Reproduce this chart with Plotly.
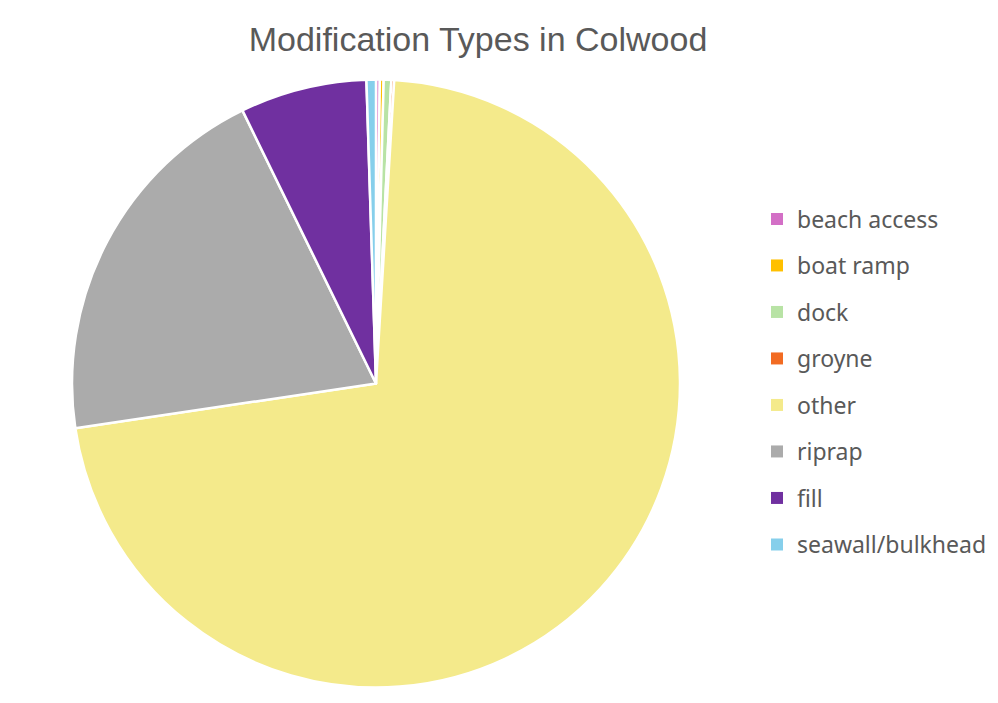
import plotly.graph_objects as go

categories = ["beach access", "boat ramp", "dock", "groyne", "other", "riprap", "fill", "seawall/bulkhead"]
values = [0.2, 0.2, 0.4, 0.15, 71.3, 20.0, 6.7, 0.5]
colors = ["#D36FC6", "#FFC000", "#B8E3A5", "#F26B22", "#F4EA8B", "#ABABAB", "#7030A0", "#86CFEB"]

fig = go.Figure()
fig.add_trace(go.Pie(
    labels=categories, values=values, sort=False, direction="clockwise", rotation=0,
    marker=dict(colors=colors, line=dict(color="white", width=2.5)),
    textinfo="none", hoverinfo="label+value", showlegend=False,
    domain=dict(x=[(368 - 304) / 998, (368 + 304) / 998], y=[(703 - 680) / 703, (703 - 71) / 703]),
))

# legend entries
for i, (c, col) in enumerate(zip(categories, colors)):
    fig.add_trace(go.Scatter(
        x=[None], y=[None], mode="markers", name=c,
        marker=dict(symbol="square", size=10, color=col),
        legendgroup=f"g{i}", showlegend=True, hoverinfo="skip",
    ))

fig.update_layout(
    width=998, height=703,
    margin=dict(l=0, r=0, t=0, b=0),
    paper_bgcolor="white", plot_bgcolor="white",
    title=dict(text="Modification Types in Colwood", x=470 / 998, xanchor="center",
               y=1 - 31 / 703, yanchor="middle",
               font=dict(family="Arial, Liberation Sans, sans-serif", size=34, color="#595959")),
    xaxis=dict(visible=False), yaxis=dict(visible=False),
    legend=dict(x=749 / 998, xanchor="left", y=1 - 189.5 / 703, yanchor="top",
                font=dict(family="Noto Sans", size=23, color="#595959"),
                tracegroupgap=13.6, itemsizing="constant", bgcolor="rgba(0,0,0,0)"),
)

fig.write_html("out.html")
